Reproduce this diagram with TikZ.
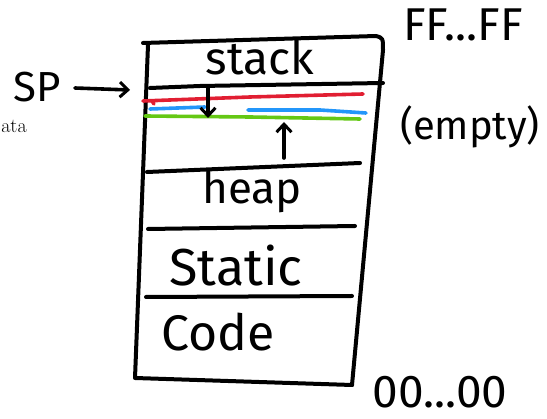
\documentclass[tikz,border=0pt]{standalone}
\usepackage{fontspec}
\newfontfamily\hand{Fira Sans}
\usetikzlibrary{arrows.meta}
\definecolor{penred}{RGB}{225,30,50}
\definecolor{penblue}{RGB}{35,150,250}
\definecolor{pengreen}{RGB}{100,200,20}
\begin{document}
\begin{tikzpicture}[x=1pt,y=-1pt,line cap=round,line join=round,
    pen/.style={line width=4pt},
    thinpen/.style={line width=3.6pt},
    barb/.style={-{Straight Barb[length=8pt,width=15pt,line width=3pt]}},
    word/.style={font=\hand\fontsize{#1}{#1}\selectfont,inner sep=0pt}]
  \useasboundingbox (0,0) rectangle (547,419);
  % outline of the memory block
  \draw [pen] (143,43) -- (376,36) .. controls (383,38) .. (383,50)
    -- (352,385);
  \draw [pen] (148,45) -- (135,378) -- (352,385);
  % dividers
  \draw [pen] (150,88) -- (200,86) -- (383,83);
  \draw [pen] (147,172) -- (360,163);
  \draw [pen] (148,229) -- (355,226);
  \draw [pen] (146,297) -- (352,296);
  % stack and heap limits
  \draw [thinpen,penred] (143,101) -- (250,97) -- (363,94);
  \draw [thinpen,penred] (152,101) -- (154,104);
  \draw [thinpen,penblue] (150,109) -- (205,107);
  \draw [thinpen,penblue] (248,110) -- (320,110) -- (366,113);
  \draw [thinpen,pengreen] (145,116) -- (250,117) -- (360,119);
  % labels
  \node [word=46] (stack) at (260,58) {stack};
  \node [word=44] (heap) at (252,192) {heap};
  \node [word=52] (static) at (236,266) {Static};
  \node [word=50] (code) at (218,332) {Code};
  \node [word=42] (sp) at (37,87) {SP};
  \node [word=46] (top) at (463,25) {FF...FF};
  \node [word=40] (empty) at (470,127) {(empty)};
  \node [word=46] (bottom) at (440,392) {00...00};
  \node [font=\fontsize{20}{20}\selectfont,inner sep=0pt] (rest) at (14,126) {ata};
  % pointers
  \coordinate (spend) at (130,90);
  \coordinate (downtop) at (208,88);
  \coordinate (downend) at (208,118);
  \coordinate (uptail) at (284,158);
  \coordinate (uphead) at (284,122);
  \draw [thinpen,barb] (sp.east) ++(14,1) -- (spend);
  \draw [thinpen,barb] (downtop) -- (downend);
  \draw [thinpen,barb] (uptail) -- (uphead);
\end{tikzpicture}
\end{document}
